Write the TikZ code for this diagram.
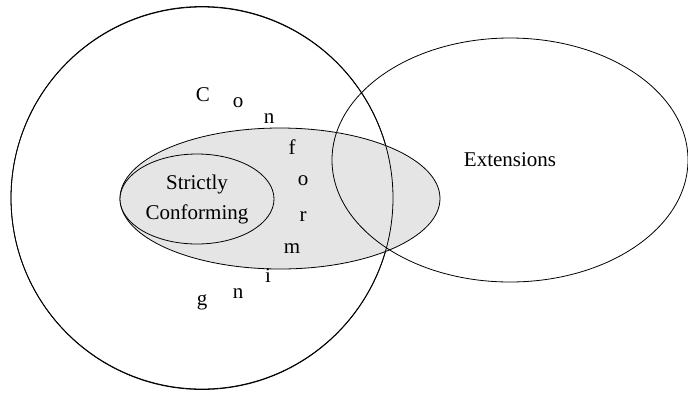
\documentclass[tikz,border=0pt]{standalone}
\usepackage{fontspec}
\setmainfont{Liberation Serif}
\usetikzlibrary{shapes.geometric}
\begin{document}
\begin{tikzpicture}[x=1pt,y=-1pt,
  outline/.style={draw=black,line width=0.8pt},
  region/.style={ellipse,inner sep=0pt,outline},
  lbl/.style={font=\fontsize{21}{24}\selectfont,inner sep=0pt,align=center},
  letter/.style={font=\fontsize{21}{24}\selectfont,inner sep=0pt}]
\useasboundingbox (0,0) rectangle (688,392);
\fill[fill=black!10] (280,198.5) ellipse [x radius=160,y radius=70.5];
\node[region,minimum width=382pt,minimum height=383pt] (conf) at (202,198) {};
\node[region,fill=black!10,minimum width=320pt,minimum height=141pt] (impl) at (280,198.5) {};
\node[region,fill=black!10,minimum width=154pt,minimum height=90pt,lbl] (strict) at (197,199) {Strictly\\[6pt]Conforming};
\node[region,minimum width=356pt,minimum height=244pt,lbl] (ext) at (510,160) {Extensions};
\draw[outline] (conf.center) circle[radius=191];
\node[letter] (l1) at (203,95) {C};
\node[letter] (l2) at (238,103) {o};
\node[letter] (l3) at (269,119) {n};
\node[letter] (l4) at (292,147) {f};
\node[letter] (l5) at (303,181) {o};
\node[letter] (l6) at (303,217) {r};
\node[letter] (l7) at (292,249) {m};
\node[letter] (l8) at (268,276) {i};
\node[letter] (l9) at (238,294) {n};
\node[letter] (l10) at (202,302) {g};
\end{tikzpicture}
\end{document}
